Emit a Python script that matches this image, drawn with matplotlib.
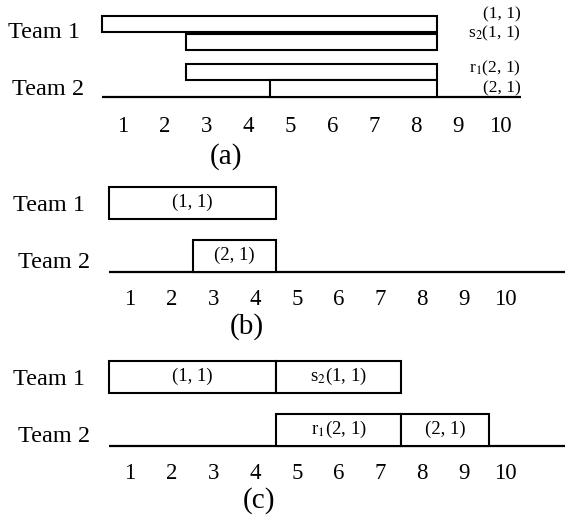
import matplotlib.pyplot as plt

plt.rcParams["font.family"] = ["Liberation Serif", "DejaVu Serif"]
plt.rcParams["mathtext.fontset"] = "stix"

W, H = 565, 525
PX = 32.0  # pixels per row unit

time_ticks = list(range(1, 11))
teams = ["Team 1", "Team 2"]

# panel (a): all intervals end at the same time
a_labels = ["(1, 1)", "s$_2$(1, 1)", "r$_1$(2, 1)", "(2, 1)"]
a_start = [0.5, 2.5, 2.5, 4.5]
a_end = [8.5, 8.5, 8.5, 8.5]

# panel (b)
b_labels = ["(1, 1)", "(2, 1)"]
b_start = [0.5, 2.5]
b_end = [4.5, 4.5]
b_team = [1, 2]

# panel (c)
c_labels = ["(1, 1)", "s$_2$(1, 1)", "r$_1$(2, 1)", "(2, 1)"]
c_start = [0.5, 4.5, 4.5, 7.5]
c_end = [4.5, 7.5, 7.5, 9.6]
c_team = [1, 1, 2, 2]


def make_axes(fig, top, bottom, baseline, x_one, step):
    ax = fig.add_axes([0, 1 - bottom / H, 1, (bottom - top) / H])
    ax.set_xlim(1 - x_one / step, 1 + (W - x_one) / step)
    ax.set_ylim(-(bottom - baseline) / PX, (baseline - top) / PX)
    ax.axis("off")
    return ax


def common(ax, team_y, team_x, tick_y, name, name_x, name_y):
    for t, ty, tx in zip(teams, team_y, team_x):
        ax.text(tx / W, ty, t, transform=ax.get_yaxis_transform(),
                fontsize=17.5, ha="left", va="center")
    for t in time_ticks:
        ax.text(t, tick_y, str(t), fontsize=16.5, ha="center", va="center")
    ax.text(name_x, name_y, name, fontsize=21, ha="center", va="center")


fig = plt.figure(figsize=(W / 100, H / 100), dpi=100)

# (a)
ax = make_axes(fig, 0, 170, 97, 123, 41.9)
a_bottom = [2.03, 1.47, 0.53, 0.0]
a_height = [0.5, 0.5, 0.5, 0.53]
ax.plot([0.5, 10.5], [0, 0], color="black", lw=1.6, solid_capstyle="butt")
ax.barh(a_bottom, [e - s for s, e in zip(a_start, a_end)], left=a_start,
        height=a_height, align="edge", facecolor="white", edgecolor="black",
        lw=1.5, zorder=3)
for lab, yb in zip(a_labels, [2.58, 2.0, 0.88, 0.27]):
    ax.text(521 / W, yb, lab, transform=ax.get_yaxis_transform(),
            fontsize=12.5, ha="right", va="center")
common(ax, [2.0, 0.22], [8, 12], -0.92, "(a)", 3.45, -1.87)

# (b) and (c)
for labels, start, end, team, band, name, name_x in [
        (b_labels, b_start, b_end, b_team, (170, 345, 272), "(b)", 3.8),
        (c_labels, c_start, c_end, c_team, (345, 525, 446), "(c)", 4.1)]:
    ax = make_axes(fig, band[0], band[1], band[2], 130, 41.7)
    ax.plot([0.5, ax.get_xlim()[1]], [0, 0], color="black", lw=1.6,
            solid_capstyle="butt")
    rows = [1.65 if t == 1 else 0.0 for t in team]
    ax.barh(rows, [e - s for s, e in zip(start, end)], left=start, height=1.0,
            align="edge", facecolor="white", edgecolor="black", lw=1.5, zorder=3)
    for lab, s, e, r in zip(labels, start, end, rows):
        ax.text((s + e) / 2, r + 0.53, lab, fontsize=13.5, ha="center",
                va="center", zorder=4)
    common(ax, [2.08, 0.3], [13, 18], -0.87, name, name_x, -1.7)

fig.savefig("out.png", dpi=100)
